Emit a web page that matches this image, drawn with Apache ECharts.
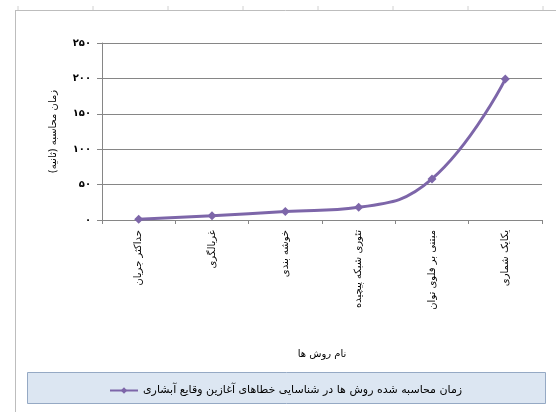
<!DOCTYPE html>
<html>
<head>
<meta charset="utf-8">
<script src="https://cdn.jsdelivr.net/npm/echarts@6/dist/echarts.min.js"></script>
<style>
html,body{margin:0;padding:0;background:#fff;}
#c{width:556px;height:412px;}
</style>
</head>
<body>
<div id="c"></div>
<script>
var categories = ['حداکثر جریان', 'غربالگری', 'خوشه بندی', 'تئوری شبکه پیچیده', 'مبتنی بر فلوی توان', 'یکایک شماری'];
var values = [1, 6, 12, 18, 58, 199];
var seriesName = 'زمان محاسبه شده روش ها در شناسایی خطاهای آغازین وقایع آبشاری';
var yTitle = 'زمان محاسبه (ثانیه)';
var xTitle = 'نام روش ها';
var yMin = 0, yMax = 250, yStep = 50;

function toFa(v) {
  var d = '۰۱۲۳۴۵۶۷۸۹';
  return String(v).replace(/[0-9]/g, function (c) { return d[+c]; });
}

var font = 'DejaVu Sans';
var chart = echarts.init(document.getElementById('c'));
var topTicks = [];
for (var tx = 18; tx < 556; tx += 75) {
  topTicks.push({type: 'line', shape: {x1: tx, y1: 6, x2: tx, y2: 10}, style: {stroke: '#d0d0d0', lineWidth: 1}, silent: true});
}
chart.setOption({
  animation: false,
  textStyle: {fontFamily: font},
  graphic: [
    {type: 'line', shape: {x1: 15, y1: 10.5, x2: 556, y2: 10.5}, style: {stroke: '#bdbdbd', lineWidth: 1}, silent: true},
    {type: 'line', shape: {x1: 15.5, y1: 10, x2: 15.5, y2: 412}, style: {stroke: '#bdbdbd', lineWidth: 1}, silent: true},
    {type: 'rect', shape: {x: 27.5, y: 372.5, width: 518, height: 31}, style: {fill: '#dce6f2', stroke: '#95a9c4', lineWidth: 1}, z: -1, silent: true}
  ].concat(topTicks),
  grid: {left: 102, right: 14, top: 43, bottom: 192, containLabel: false},
  legend: {
    data: [seriesName],
    left: 104,
    top: 380,
    itemWidth: 28,
    itemHeight: 8,
    itemGap: 6,
    textStyle: {fontFamily: font, fontSize: 11, color: '#000'}
  },
  xAxis: {
    type: 'category',
    data: categories,
    boundaryGap: true,
    name: xTitle,
    nameLocation: 'middle',
    nameGap: 129,
    nameTextStyle: {fontFamily: font, fontSize: 10, color: '#000'},
    axisLine: {lineStyle: {color: '#868686', width: 1}},
    axisTick: {show: true, length: 4, lineStyle: {color: '#868686'}},
    axisLabel: {rotate: 90, interval: 0, fontSize: 10, color: '#000', margin: 10, fontFamily: font}
  },
  yAxis: {
    type: 'value',
    min: yMin, max: yMax, interval: yStep,
    name: yTitle,
    nameLocation: 'middle',
    nameGap: 44,
    nameRotate: 90,
    nameTextStyle: {fontFamily: font, fontSize: 10, color: '#000'},
    axisLine: {show: true, lineStyle: {color: '#868686', width: 1}},
    axisTick: {show: true, length: 5, lineStyle: {color: '#868686'}},
    axisLabel: {formatter: function (v) { return toFa(v); }, fontSize: 10, fontWeight: 'bold', color: '#000', margin: 11, fontFamily: font},
    splitLine: {show: true, lineStyle: {color: '#868686', width: 1}}
  },
  series: [{
    name: seriesName,
    type: 'line',
    data: values,
    smooth: 0.45,
    symbol: 'diamond',
    symbolSize: 9,
    itemStyle: {color: '#7d66a9'},
    lineStyle: {color: '#7d66a9', width: 3}
  }]
});
</script>
</body>
</html>
